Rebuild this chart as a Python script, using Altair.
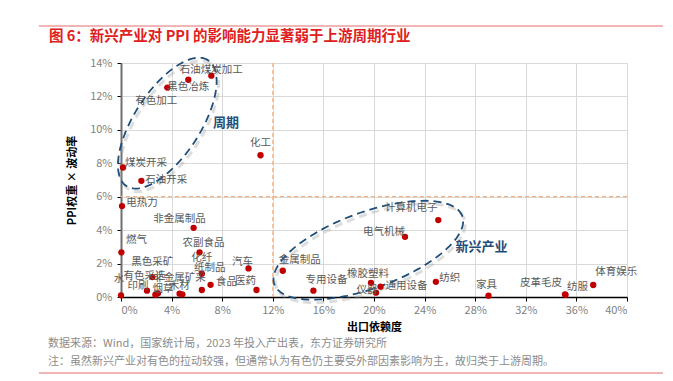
import numpy as np
import pandas as pd
import altair as alt

# ---------------- data ----------------
industries = ["石油煤炭加工", "黑色冶炼", "有色加工", "化工", "煤炭开采", "石油开采", "电热力",
              "非金属制品", "燃气", "农副食品", "黑色采矿", "化纤", "汽车", "纸制品", "食品", "医药",
              "水", "印刷", "有色采选", "烟草", "非金属矿采", "木材",
              "金属制品", "专用设备", "橡胶塑料", "仪器", "通用设备", "电气机械", "计算机电子",
              "纺织", "家具", "皮革毛皮", "纺服", "体育娱乐"]
export_dependence = [7.14, 5.32, 3.66, 11.03, 0.16, 1.61, 0.08,
                     5.74, 0.03, 6.21, 2.48, 6.39, 10.08, 6.39, 7.08, 10.71,
                     0.0, 2.05, 2.72, 2.92, 4.63, 4.85,
                     12.79, 15.21, 19.76, 20.16, 20.52, 22.45, 25.08,
                     24.89, 29.05, 35.10, 35.14, 37.33]
ppi_weight_vol = [13.24, 13.00, 12.53, 8.48, 7.75, 6.95, 5.44,
                  4.14, 2.67, 2.67, 1.19, 1.39, 1.71, 0.42, 0.73, 0.42,
                  0.10, 0.38, 0.14, 0.22, 0.20, 0.16,
                  1.57, 0.38, 0.85, 0.26, 0.62, 3.60, 4.60,
                  0.91, 0.08, 0.16, 0.13, 0.72]

# label offsets from each point, in pixels (layout only)
label_dx = [0, 0, -11, 0, 23, 25, 20,
            -14, 15, 4, 0, 0, -6, 8, 16, -11,
            -2, -9, -11, 5, 0, -3,
            17, 13, -3, -9, 26, -21, -27,
            14, -2, -24, 12, 23]
label_dy = [-6, 7, 13, -12, -4, -1, -3,
            -9, -12, -9, -15, -16, -6, -22, -3, -9,
            -16, -5, -19, -4, -16, -8,
            -11, -11, -9, -3, -1, -5, -12,
            -4, -11, -11, -8, -13]

x_ticks = list(range(0, 41, 4))
y_ticks = list(range(0, 15, 2))
threshold_x = [12]
threshold_y = [6]

group_names = ["周期", "新兴产业"]
group_label_x = [8.31, 28.49]
group_label_y = [10.41, 3.0]

title_text = "图 6：新兴产业对 PPI 的影响能力显著弱于上游周期行业"
source_text = "数据来源：Wind，国家统计局，2023 年投入产出表，东方证券研究所"
note_text = "注：虽然新兴产业对有色的拉动较强，但通常认为有色仍主要受外部因素影响为主，故归类于上游周期。"

# ---------------- layout ----------------
W, H = 506, 234
PX_X = W / 40.0
PX_Y = H / 14.0
FONT = "Noto Sans CJK SC"

df = pd.DataFrame({"name": industries, "x": export_dependence, "y": ppi_weight_vol})
lab = pd.DataFrame({
    "name": industries,
    "x": [a + dx / PX_X for a, dx in zip(export_dependence, label_dx)],
    "y": [b - dy / PX_Y for b, dy in zip(ppi_weight_vol, label_dy)],
})

# annotation ellipses (center in data units, axes in pixels, angle in degrees)
ellipses = [
    ("周期", 3.66, 10.4, 75, 33, 57),
    ("新兴产业", 19.55, 2.80, 100, 38, 20),
]
rows = []
t = np.linspace(0, 2 * np.pi, 121)
for name, cx, cy, a, b, ang in ellipses:
    th = np.deg2rad(ang)
    px = a * np.cos(t) * np.cos(th) - b * np.sin(t) * np.sin(th)
    py = a * np.cos(t) * np.sin(th) + b * np.sin(t) * np.cos(th)
    for i, (u, v) in enumerate(zip(px, py)):
        rows.append({"grp": name, "i": i, "x": cx + u / PX_X, "y": cy + v / PX_Y})
        rows.append({"grp": name + "_s", "i": i, "x": cx + (u + 2) / PX_X, "y": cy + (v - 3) / PX_Y})
ell = pd.DataFrame(rows)
ell_main = ell[~ell["grp"].str.endswith("_s")]
ell_shadow = ell[ell["grp"].str.endswith("_s")]

xs = alt.Scale(domain=[0, 40], nice=False, zero=False)
ys = alt.Scale(domain=[0, 14], nice=False, zero=False)

x_axis = alt.Axis(values=x_ticks, labelExpr="datum.value + '%'", title="出口依赖度",
                  grid=True, gridColor="#D9D9D9", domainColor="#000000", domainWidth=1.5,
                  tickColor="#000000", tickSize=4, labelColor="#7F7F7F", labelFontSize=11,
                  labelPadding=3, titleFontSize=11, titleFontWeight="bold", titleColor="#000000",
                  titlePadding=6)
y_axis = alt.Axis(values=y_ticks, labelExpr="datum.value + '%'", title="PPI权重 × 波动率",
                  grid=True, gridColor="#D9D9D9", domainColor="#6E6E6E", domainWidth=2,
                  tickColor="#000000", tickSize=4, labelColor="#7F7F7F", labelFontSize=11,
                  labelPadding=5, titleFontSize=11, titleFontWeight="bold", titleColor="#000000",
                  titlePadding=12)


def X():
    return alt.X("x:Q", scale=xs, axis=x_axis)


def Y():
    return alt.Y("y:Q", scale=ys, axis=y_axis)


points = alt.Chart(df).mark_circle(size=40, color="#C00000", opacity=1).encode(x=X(), y=Y())

vline = alt.Chart(pd.DataFrame({"x": threshold_x})).mark_rule(
    color="#F4B183", strokeDash=[4, 3], strokeWidth=1.2).encode(x=X())
hline = alt.Chart(pd.DataFrame({"y": threshold_y})).mark_rule(
    color="#F4B183", strokeDash=[4, 3], strokeWidth=1.2).encode(y=Y())

shadow = alt.Chart(ell_shadow).mark_line(color="#9E9E9E", strokeWidth=3, opacity=0.35,
                                         strokeDash=[8, 5]).encode(
    x=X(), y=Y(), detail="grp:N", order="i:Q")
ellipse = alt.Chart(ell_main).mark_line(color="#1F4E79", strokeWidth=1.8,
                                        strokeDash=[8, 5]).encode(
    x=X(), y=Y(), detail="grp:N", order="i:Q")

labels = alt.Chart(lab).mark_text(font=FONT, fontSize=10.5, color="#595959",
                                  align="center", baseline="middle").encode(
    x=X(), y=Y(), text="name:N")

grp_labels = alt.Chart(pd.DataFrame({"name": group_names, "x": group_label_x, "y": group_label_y})
                       ).mark_text(font=FONT, fontSize=13, fontWeight="bold", color="#1F4E79",
                                   align="center", baseline="middle").encode(
    x=X(), y=Y(), text="name:N")

one = pd.DataFrame({"t": [title_text]})
title = alt.Chart(one).mark_text(font=FONT, fontSize=14.5, fontWeight="bold", color="#E02020",
                                 align="left", baseline="middle").encode(
    x=alt.value(-72), y=alt.value(-26), text="t:N")
top_line = alt.Chart(one).mark_rule(color="#E46C6C", strokeWidth=1).encode(
    x=alt.value(-82), x2=alt.value(542), y=alt.value(-37))
source = alt.Chart(pd.DataFrame({"t": [source_text]})).mark_text(
    font=FONT, fontSize=11, color="#8C8C8C", align="left", baseline="middle").encode(
    x=alt.value(-73), y=alt.value(281), text="t:N")
note = alt.Chart(pd.DataFrame({"t": [note_text]})).mark_text(
    font=FONT, fontSize=11, color="#8C8C8C", align="left", baseline="middle").encode(
    x=alt.value(-73), y=alt.value(299), text="t:N")
bottom_line = alt.Chart(one).mark_rule(color="#E46C6C", strokeWidth=1).encode(
    x=alt.value(-82), x2=alt.value(542), y=alt.value(310))

chart = alt.layer(
    vline, hline, shadow, ellipse, points, labels, grp_labels,
    title, top_line, source, note, bottom_line
).properties(
    width=W, height=H,
    autosize=alt.AutoSizeParams(type="none"),
    padding={"left": 113, "top": 55, "right": 36, "bottom": 80},
).configure_view(stroke=None).configure_axis(
    labelFont=FONT, titleFont=FONT
)

chart.save("out.html", embed_options={"renderer": "svg", "actions": False})
